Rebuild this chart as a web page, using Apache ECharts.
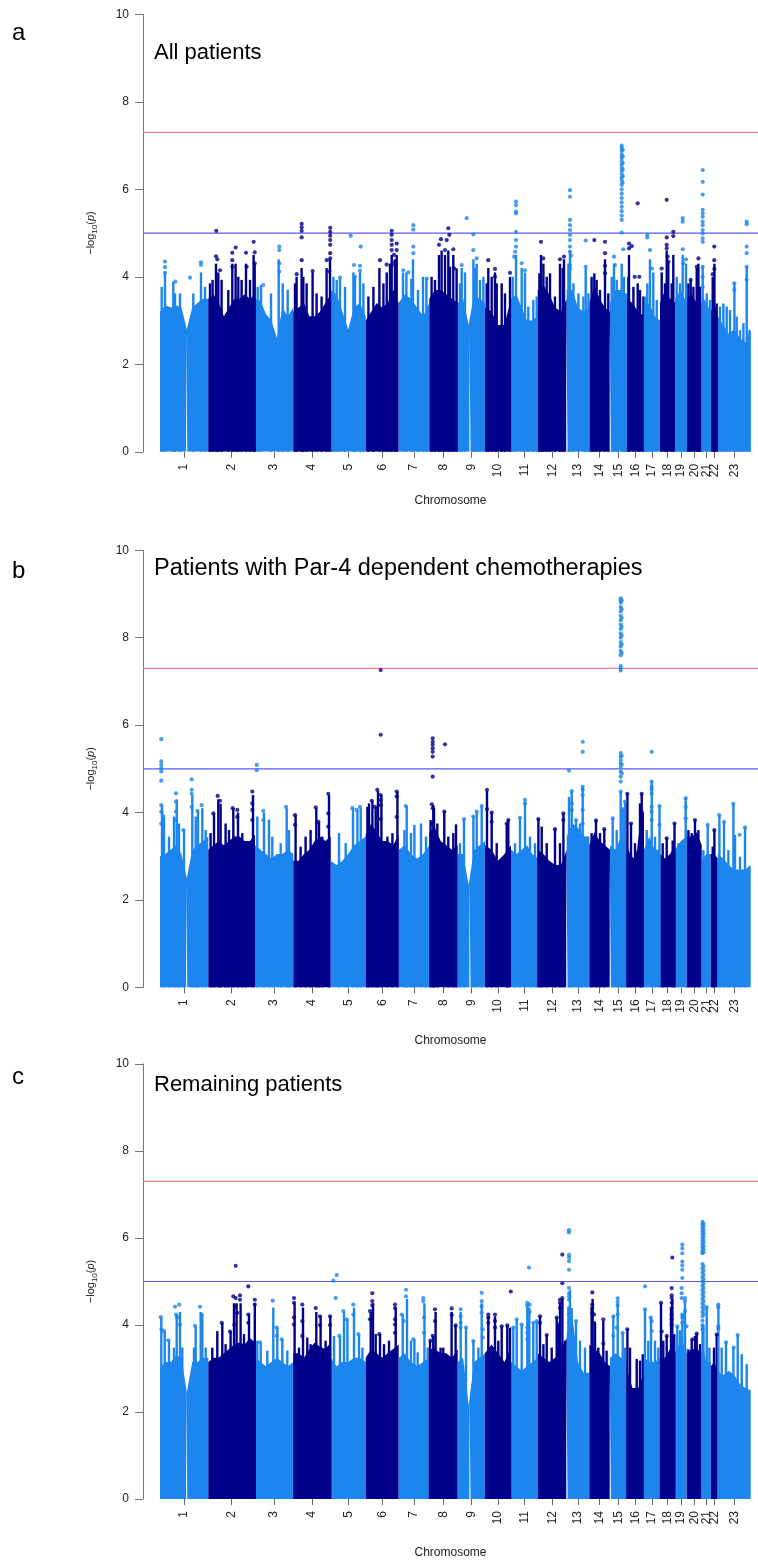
<!DOCTYPE html>
<html><head><meta charset="utf-8">
<script src="https://cdn.jsdelivr.net/npm/echarts@6/dist/echarts.min.js"></script>
<style>html,body{margin:0;padding:0;background:#fff}#c{width:758px;height:1560px}</style>
</head><body><div id="c"></div>
<script>
// ---------------- data ----------------
const chromLabels = ['1','2','3','4','5','6','7','8','9','10','11','12','13','14','15','16','17','18','19','20','21','22','23'];
// relative chromosome lengths (SNP span)
const chromSizes = [48.3,46.7,38.3,37.4,35.0,33.0,30.6,28.4,27.3,26.0,26.7,29.0,22.6,20.7,16.7,17.3,16.0,15.0,11.7,15.0,9.0,7.0,33.0];
const yTickMax = 10, yTickStep = 2;
const genomeWideLine = 7.3;
const suggestiveLine = 5;
const panelLetters = ['a','b','c'];
const panelTitles = ['All patients','Patients with Par-4 dependent chemotherapies','Remaining patients'];

// level of the solid (dense) part of the point cloud, evenly spaced along each chromosome
const cloudTopA = [
 [3.2,3.35,3.3,3.35,3.3,2.8,3.3,3.4,3.5,3.5],[3.5,3.6,3.4,3.1,3.3,3.5,3.5,3.6,3.5,3.6],[3.5,3.45,3.15,3.0,2.6,3.3,3.1,3.3],
 [3.2,3.3,3.4,3.1,3.1,3.2,3.4,3.6],[3.7,3.6,3.2,2.8,3.3,3.4,3.1],[3.0,3.2,3.4,3.3,3.4,3.7,3.4],[3.4,3.6,3.5,3.3,3.1,3.4],
 [3.5,3.7,3.7,3.6,3.5,3.4],[3.4,3.5,2.9,3.6,3.5,3.4],[3.3,3.2,2.9,2.9,3.5],[3.5,3.6,3.3,3.0,3.0,3.1],[3.7,3.8,3.6,3.3,3.2,3.5],
 [3.7,3.7,3.3,3.2,3.3],[3.4,3.8,3.5,3.3,3.2],[3.4,3.7,3.7,3.2],[3.5,3.4,3.2,3.1],[3.3,3.4,3.1,3.0],[3.4,3.7,3.5,3.4],
 [3.5,3.7,3.4],[3.5,3.6,3.4,3.4],[3.6,3.4,3.2],[3.2,3.4,3.1],[3.1,2.9,2.7,2.8,2.6,2.5,2.8]
];
const cloudTopB = [
 [3.0,3.05,3.15,3.25,3.05,2.5,3.15,3.25,3.35,3.45],[3.15,3.25,3.35,3.25,3.35,3.45,3.45,3.35,3.35,3.5],[3.25,3.15,3.05,2.95,3.05,3.05,3.15,3.05],
 [2.9,2.9,3.05,3.15,3.35,3.45,3.35,3.45],[2.9,2.8,2.9,3.05,3.25,3.35,3.45],[3.5,3.75,3.55,3.35,3.35,3.25,3.5],[3.15,3.25,3.05,2.95,3.05,3.25],
 [3.55,3.65,3.35,3.25,3.15,3.25],[3.05,3.05,2.35,3.15,3.25,3.35],[3.25,3.15,2.9,3.05,3.25],[3.15,3.05,3.15,3.25,3.05,2.95],[3.15,3.05,2.9,2.8,2.8,3.15],
 [3.45,3.75,3.65,3.45,3.45],[3.25,3.55,3.35,3.25,3.15],[3.25,3.15,3.45,3.05],[3.25,3.05,2.95,3.15,3.85,4.05],[3.15,3.45,3.15,3.15],[3.05,2.95,3.05,3.25],
 [3.15,3.35,3.45],[3.45,3.45,3.55,3.25],[2.9,3.05,3.05],[3.05,3.05,2.95],[3.05,2.95,2.8,2.7,2.7,2.7,2.8]
];
const cloudTopC = [
 [3.0,3.15,3.15,3.3,3.25,2.45,3.15,3.15,3.25,3.25],[3.15,3.25,3.25,3.35,3.45,3.55,3.6,3.55,3.7,3.6],[3.25,3.15,3.05,3.15,3.25,3.15,3.05,3.15],
 [3.35,3.35,3.25,3.45,3.6,3.5,3.45,3.6],[3.25,3.05,3.15,3.15,3.25,3.25,3.15],[3.25,3.45,3.35,3.25,3.35,3.45,3.55],[3.25,3.35,3.15,3.05,3.15,3.25],
 [3.45,3.45,3.35,3.35,3.25,3.45],[3.15,3.25,2.15,3.15,3.25,3.35],[3.35,3.55,3.35,3.15,3.5],[3.15,3.05,2.95,3.05,3.15,3.25],[3.35,3.25,3.15,3.25,3.45,3.7],
 [3.8,4.2,3.15,2.9,2.9],[3.55,3.45,3.35,3.15,3.05],[3.25,3.35,3.25,3.15],[3.0,2.55,2.55,2.9],[3.25,3.15,3.15,3.25],[3.25,3.25,3.45,3.75],
 [3.35,3.65,3.45],[3.35,3.45,3.45,3.35],[3.65,3.15,3.15],[3.05,3.15,2.95],[2.95,2.85,2.95,2.85,2.65,2.55,2.5]
];

// dense vertical streaks of SNPs rising out of the cloud: [chromosome, position, top]
const streaksA = [
 [1,1.7,3.77],[1,5,4.1],[1,13.3,3.89],[1,15,3.62],[1,20,3.62],[1,33.3,3.62],[1,41,4.1],[1,45,3.77],
 [2,1.7,3.85],[2,4.3,3.93],[2,7.7,4.3],[2,10,4.1],[2,13.3,3.93],[2,20,3.7],[2,24,4.3],[2,27.3,4.3],[2,30,4.0],[2,33.3,3.93],[2,37.7,4.3],[2,41.7,3.93],[2,45.3,4.5],[2,46.4,4.3],
 [3,2.7,3.77],[3,6,3.81],[3,16,3.62],[3,23.7,4.4],[3,27.7,3.85],[3,32.7,3.7],
 [4,1.7,3.85],[4,3.3,4.0],[4,8.3,4.2],[4,10,4.0],[4,13.3,3.85],[4,19.3,4.1],[4,23.3,3.62],[4,28.3,3.55],[4,33.3,4.2],[4,36.7,4.4],
 [5,2.7,4.0],[5,6,3.93],[5,9.3,3.96],[5,14.3,3.77],[5,22.7,4.1],[5,24.3,4.0],[5,29.3,4.1],[5,32.7,3.85],
 [6,2.7,3.55],[6,7.7,3.77],[6,13.7,4.2],[6,17.7,3.85],[6,21,4.1],[6,24.3,4.3],[6,26,4.5],[6,29.3,4.4],[6,31,4.5],
 [7,4.3,4.1],[7,7.7,4.1],[7,12.7,3.96],[7,14.3,4.4],[7,19.3,3.7],[7,24.3,4.0],[7,27.7,3.96],
 [8,2.3,4.0],[8,5.7,3.93],[8,9.7,4.5],[8,12.3,4.6],[8,15.7,4.5],[8,19,4.6],[8,20.7,4.23],[8,24,4.5],[8,27.3,4.19],
 [9,2.3,3.85],[9,4,4.2],[9,7.3,4.1],[9,15.7,4.4],[9,17.3,4.2],[9,19,4.3],[9,22.3,3.93],[9,25.7,4.0],
 [10,1.7,3.85],[10,3.3,4.2],[10,6.7,4.0],[10,10,4.1],[10,11.7,3.85],[10,16.7,3.85],[10,20,3.62],[10,25,4.0],
 [11,1.7,4.0],[11,5,4.5],[11,10.7,4.2],[11,14,4.1],[11,17.3,3.32],[11,22.3,3.47],[11,25.7,3.55],
 [12,1.7,4.08],[12,3.3,4.5],[12,5.7,4.3],[12,9,4.0],[12,12.3,4.08],[12,17.3,3.55],[12,22.3,4.3],[12,25,4.2],[12,26.3,4.4],
 [13,1.7,4.3],[13,3.3,4.6],[13,6.7,3.85],[13,11.7,3.62],[13,16.7,3.55],[13,19,4.2],[13,21.7,3.62],
 [14,2.3,4.0],[14,5,4.08],[14,7.3,3.93],[14,10.7,3.7],[14,15.7,4.4],[14,19,3.62],
 [15,1.7,4.0],[15,4,4.3],[15,6.7,3.93],[15,11.7,4.3],[15,14,4.0],[15,16,3.62],
 [16,1.7,4.0],[16,2.3,4.5],[16,6.7,3.77],[16,11,3.85],[16,13.3,3.7],[16,16.7,3.55],
 [17,1,3.55],[17,3.3,3.85],[17,6,4.4],[17,9.3,4.1],[17,12.7,3.47],
 [18,1.7,4.1],[18,5,3.85],[18,6.7,4.6],[18,8.3,4.35],[18,11.7,3.85],[18,13.3,4.5],
 [19,1.7,4.0],[19,5,3.85],[19,7.7,4.5],[19,11,4.3],
 [20,1.7,3.85],[20,4,3.93],[20,6.7,3.77],[20,10,4.2],[20,11.7,4.3],[20,13.3,3.77],
 [21,1,4.23],[21,5,3.62],[21,8.3,3.47],
 [22,2,4.0],[22,3.7,4.3],[22,6,3.39],
 [23,2.3,3.32],[23,5.7,3.39],[23,9,3.32],[23,12.3,3.24],[23,16.7,3.85],[23,19,3.09],[23,22.3,2.78],[23,25.7,2.94],[23,29,4.23],[23,31.7,2.78]
];
const streaksB = [
 [1,2,4.17],[1,4,3.91],[1,9,3.45],[1,14,3.91],[1,16.7,4.3],[1,19,3.75],[1,24,3.6],[1,32.3,4.4],[1,35.7,3.91],[1,38,4.04],[1,42.3,4.1],[1,45.7,3.6],
 [2,2.3,3.53],[2,5.7,3.98],[2,10,4.3],[2,12.3,4.2],[2,17.3,3.75],[2,20.7,3.6],[2,25,4.1],[2,29.7,4.0],[2,34,3.53],[2,37.3,3.3],[2,44.7,4.4],
 [3,2.3,3.91],[3,9,4.0],[3,14,3.84],[3,17.3,3.45],[3,25.7,3.3],[3,31.7,4.1],[3,34,3.6],
 [4,2.3,3.94],[4,7.3,3.22],[4,12.3,3.45],[4,17.3,3.6],[4,23,4.1],[4,25.7,3.79],[4,29,3.45],[4,35.7,4.4],
 [5,8.3,3.53],[5,15,3.3],[5,22.3,4.1],[5,26.7,4.06],[5,30,4.1],
 [6,1.7,4.13],[6,3.3,4.21],[6,6.7,4.27],[6,10,4.13],[6,12.3,4.5],[6,15.7,4.4],[6,21.7,3.45],[6,26.7,3.53],[6,31.7,4.48],
 [7,5.7,3.6],[7,8,4.15],[7,12.3,3.53],[7,15.7,3.72],[7,22.3,3.75],[7,27.3,3.45],
 [8,1.3,3.83],[8,4,4.17],[8,4.7,4.1],[8,8,3.75],[8,15,4.02],[8,19,3.45],[8,24,3.53],[8,26.7,3.73],
 [9,2.3,3.3],[9,6.3,3.85],[9,15.7,3.91],[9,19,4.02],[9,24,4.15],
 [10,2,4.5],[10,6.7,4.0],[10,11.7,3.3],[10,21.7,3.75],[10,23.3,3.83],
 [11,4,3.3],[11,9,3.88],[11,14,4.25],[11,19,3.45],[11,24,3.3],
 [12,0.7,3.85],[12,4,3.68],[12,9,3.3],[12,17.3,3.62],[12,22.3,3.3],[12,25.7,3.98],
 [13,2.3,4.36],[13,5,4.49],[13,9.3,3.83],[13,13.3,3.75],[13,16,4.59],[13,20,3.45],
 [14,2.3,3.53],[14,6.7,3.82],[14,10.7,3.53],[14,15,3.62],
 [15,2.7,3.87],[15,6.7,3.6],[15,10.7,4.48],[15,12.7,4.08],[15,15,4.25],
 [16,0.7,4.43],[16,4.3,3.75],[16,8.3,3.3],[16,13.3,4.21],[16,15,4.43],
 [17,2.7,3.6],[17,7.7,4.71],[17,11,3.45],[17,15.5,4.15],
 [18,2.7,3.3],[18,6.7,3.41],[18,12.7,3.36],[18,14.5,3.75],
 [19,3.3,3.3],[19,10.7,4.33],
 [20,1.7,3.6],[20,5,3.53],[20,8.3,3.83],[20,11.7,3.6],
 [21,1.7,3.14],[21,6,3.72],
 [22,2,3.22],[22,3.7,3.6],
 [23,1.7,3.94],[23,6.3,3.79],[23,10.7,3.14],[23,15.7,4.2],[23,17.3,3.49],[23,22.3,2.99],[23,27.3,3.66]
];
const streaksC = [
 [1,1.3,4.18],[1,4.7,3.86],[1,9,3.65],[1,14,3.48],[1,16.7,4.24],[1,20,4.3],[1,22.3,3.48],[1,34,3.48],[1,35.7,3.98],[1,40.7,4.3],[1,42.3,4.24],[1,45.7,3.48],
 [2,4,3.48],[2,9,3.86],[2,14,4.05],[2,17.3,3.56],[2,22.3,3.85],[2,25.7,4.5],[2,28.3,4.5],[2,32.3,4.5],[2,35.7,3.79],[2,40.7,4.24],[2,44,3.64],[2,46.5,4.5],
 [3,2.3,3.64],[3,5.7,3.6],[3,12.3,3.41],[3,18.3,4.4],[3,22.3,3.94],[3,27.3,3.67],[3,32.3,3.41],
 [4,1.3,4.5],[4,5.7,3.48],[4,9.7,4.4],[4,14,3.71],[4,17.3,3.56],[4,23,4.3],[4,27.3,4.2],[4,32.3,3.64],[4,37,4.2],
 [5,3.3,3.75],[5,9.3,3.75],[5,13.3,4.3],[5,16.7,4.13],[5,23.3,4.4],[5,28.3,3.79],[5,31.7,3.48],
 [6,5,4.3],[6,7.3,4.5],[6,10,3.79],[6,14.3,3.79],[6,18.3,3.56],[6,23.3,3.64],[6,30,4.4],
 [7,4,4.24],[7,8.3,4.6],[7,12.3,3.64],[7,15.7,3.67],[7,19,3.37],[7,25.7,4.5],[7,29,3.48],
 [8,0.7,3.64],[8,4,3.75],[8,6.3,4.3],[8,11.3,3.48],[8,14,3.48],[8,22.3,4.3],[8,26.3,3.99],
 [9,3,4.3],[9,8.3,3.94],[9,15.7,3.64],[9,20.7,3.48],[9,24,4.5],
 [10,3.3,4.2],[10,10,4.2],[10,13.3,3.64],[10,16.7,3.97],[10,22.3,3.99],[10,25,3.94],
 [11,2.3,3.94],[11,5.7,4.13],[11,10.7,4.01],[11,16.3,4.45],[11,18.3,4.4],[11,22.3,4.05],[11,25.7,4.09],
 [12,2.3,4.2],[12,5.7,3.56],[12,9,3.77],[12,14,3.48],[12,19,4.17],[12,20.7,4.01],[12,22.3,4.5],[12,24.7,4.6],[12,27.3,3.64],
 [13,1.7,4.39],[13,3.3,4.8],[13,5,4.39],[13,9.3,4.09],[13,13.3,3.64],[13,18.3,3.48],
 [14,2.3,4.4],[14,3.3,4.6],[14,5.7,4.05],[14,9,3.48],[14,14,4.1],[14,17.3,3.41],
 [15,3.3,4.2],[15,7.7,4.5],[15,12.7,3.82],[15,15,3.48],
 [16,0.7,3.9],[16,3.3,3.48],[16,10,3.22],[16,13.3,3.18],[16,16,3.33],
 [17,1,4.36],[17,4.3,3.64],[17,7,4.17],[17,11,3.64],[17,14.3,3.48],
 [18,1,4.5],[18,3.3,3.64],[18,6.7,3.75],[18,11,4.39],[18,12.3,4.6],[18,14.3,3.79],
 [19,2.3,3.97],[19,5,3.88],[19,7.3,4.24],[19,10,4.55],
 [20,1.7,3.44],[20,5,3.67],[20,8.3,3.75],[20,10,3.8],[20,13.3,3.56],
 [21,0.8,4.0],[21,1.8,4.0],[21,5,4.41],[21,7.7,3.48],
 [22,3.3,3.48],[22,6,3.78],
 [23,0.7,4.47],[23,4,3.48],[23,8.3,3.6],[23,15.7,3.48],[23,20,3.77],[23,24,3.33],[23,29,3.1]
];

// individual SNPs above the cloud: [chromosome, position within chromosome, -log10 p (one or several)]
const peaksA = [
 [1,5,[4.35,4.22,4.09]],[1,15.3,3.89],[1,30,3.98],[1,41,[4.33,4.27]],
 [2,8,5.05],[2,7.7,4.47],[2,9,4.4],[2,11.7,4.15],[2,24,[4.55,4.38,4.23]],[2,27.4,4.67],[2,37.7,4.55],[2,38.4,4.23],[2,45.4,4.8],[2,46.4,[4.56,4.31]],
 [3,24.3,[4.69,4.61,4.31,4.12]],[3,8.3,3.81],
 [4,8.4,[5.21,5.13,5.05,4.9,4.38]],[4,3.4,4.06],[4,19.4,4.13],[4,36.9,[5.12,5.03,4.94,4.84,4.73,4.54,4.42]],[4,33.4,4.38],[4,36,4.12],
 [5,20,4.94],[5,30,4.69],[5,23.3,4.27],[5,29.3,[4.25,4.14]],[5,24.3,4.0],[5,9.3,3.98],
 [6,26,[5.05,4.96,4.84,4.73,4.61]],[6,28.3,4.5],[6,29.3,4.34],[6,26.2,4.27],[6,21,4.28],[6,14.3,4.38],[6,31,[4.76,4.61]],
 [7,14.6,[5.18,5.08,4.69,4.54]],[7,4.6,4.15],[7,9.6,4.1],[7,28,3.96],
 [8,11.7,4.86],[8,17.4,4.84],[8,19,5.11],[8,20,4.96],[8,24,4.63],[8,15.7,4.61],[8,25,4.19],[8,9.7,4.73],
 [9,9,5.34],[9,15.6,[4.97,4.61]],[9,19,4.42],[9,4,4.27],
 [10,3.3,4.38],[10,10,[4.18,4.0]],[10,25,4.09],
 [11,5,[5.72,5.64,5.49,5.45,5.03,4.84,4.69]],[11,4.2,4.57],[11,3.2,4.46],[11,10.7,4.31],[11,14,4.15],
 [12,3.3,4.8],[12,5.6,4.42],[12,22.3,4.4],[12,26.3,4.46],
 [13,3.3,[5.98,5.83,5.3,5.18,5.07,4.96,4.84,4.69,4.57,4.27,4.19]],[13,4.3,4.48],[13,19,[4.83,4.23]],
 [14,5,4.84],[14,15.7,[4.8,4.54,4.25,4.08]],
 [15,11.7,[7.0,6.95,6.88,6.8,6.72,6.65,6.57,6.5,6.42,6.35,6.27,6.2,6.1,6.0,5.9,5.8,5.7,5.6,5.5,5.4,5.3,5.01]],[15,12.7,[6.9,6.75,6.6,6.45,6.3,6.15]],[15,13.3,4.63],[15,4,4.46],[15,5,4.27],
 [16,11,5.68],[16,2.3,[4.76,4.65]],[16,5,4.7],[16,12.6,4.0],[16,8,4.0],
 [17,3.3,[4.96,4.9]],[17,6,4.61],[17,8,4.19],
 [18,6.7,[5.76,4.9,4.73,4.65]],[18,7.7,4.46],[18,8.3,4.35],[18,13.3,[5.03,4.93]],[18,1.7,4.19],
 [19,7.7,[5.34,5.26,4.63]],[19,11,4.4],[19,8.3,4.31],
 [20,11.7,4.42],[20,10,4.23],[20,4,3.93],
 [21,1,[6.44,6.17,5.88,5.53,5.45,5.37,5.26,5.18,5.07,4.99,4.88,4.8,4.23,4.0,3.77]],
 [22,3.6,[4.69,4.38,4.18]],[22,2,4.06],
 [23,29,[5.26,5.2,4.69,4.54,4.23,3.93]],[23,16.6,[3.85,3.7]]
];
const peaksB = [
 [1,1.3,[5.68,5.17,5.09,5.01,4.94,4.73,4.17,4.02,3.75]],[1,3.3,3.92],[1,16,[4.44,4.25,4.02,3.83]],[1,23.3,3.6],[1,31.7,[4.76,4.52,4.43,4.13]],[1,37.3,4.04],[1,41.7,4.17],
 [2,9.4,4.38],[2,11.7,4.27],[2,5,3.98],[2,24.4,4.1],[2,29,[4.06,3.9]],[2,44,[4.48,4.21,4.06,3.83]],
 [3,1.7,[5.09,4.97]],[3,8.3,[4.04,3.83]],[3,31,4.13],
 [4,1.7,[3.94,3.72]],[4,22.4,4.12],[4,25,3.79],[4,35,[4.43,3.98,3.68]],
 [5,21.6,4.1],[5,26,4.06],[5,29.3,4.13],
 [6,15,[7.26,5.78,4.4,4.29,4.17,3.85]],[6,11.6,4.52],[6,6,4.27],[6,9.3,4.13],[6,31,[4.48,4.37,3.9]],
 [7,7,4.15],
 [8,3.4,[5.7,5.62,5.55,5.47,5.39,5.28,4.82,4.1,3.75]],[8,15.7,5.56],[8,15,4.02],[8,2.5,4.19],
 [9,6.3,3.85],[9,15.6,3.91],[9,19,4.02],[9,24,4.15],
 [10,2,[4.52,4.08]],[10,6.7,[4.0,3.79]],[10,21.7,3.75],[10,23.3,3.83],
 [11,14,[4.29,4.21]],[11,9,3.88],
 [12,0.6,3.85],[12,17.3,3.62],[12,25.6,[3.98,3.83]],
 [13,2.3,4.96],[13,5,[4.49,4.21,4.06]],[13,16,[5.62,5.39,4.59,4.52,4.4,4.06,3.75]],[13,9.3,3.83],
 [14,6.7,3.82],[14,15,3.62],
 [15,10.7,[8.9,8.85,8.8,8.7,8.6,8.5,8.4,8.3,8.2,8.1,8.0,7.9,7.8,7.7,7.6,7.35,7.3,7.25,5.36,5.28,5.2,5.13,5.05,4.94,4.82,4.71,4.48]],
 [15,11.7,[8.85,8.65,8.45,8.25,8.05,7.85,7.65,5.3,5.1,4.9]],[15,15,4.25],[15,12.7,4.08],[15,2.7,3.87],
 [16,0.6,4.43],[16,4.3,3.75],[16,15,4.43],
 [17,7.7,[5.39,4.71,4.59,4.52,4.43,4.13,4.02,3.83]],[17,15.5,[4.15,3.72]],
 [18,14.5,3.75],[18,6.7,3.41],
 [19,10.7,[4.33,4.13,3.87]],
 [20,8.3,3.83],
 [21,6,3.72],
 [22,3.6,3.6],
 [23,1.6,3.94],[23,15.6,4.2],[23,6.3,3.79],[23,27.3,3.66],[23,22,3.49]
];
const peaksC = [
 [1,0.7,4.18],[1,1.5,3.9],[1,4,3.86],[1,8.3,3.65],[1,15,4.42],[1,16,4.24],[1,17.3,4.17],[1,19.3,4.47],[1,20,4.01],[1,35,3.98],[1,40,4.42],[1,41.7,4.24],
 [2,27.4,[5.36,4.62]],[2,25,4.66],[2,27,4.43],[2,29,4.28],[2,31.7,[4.68,4.58]],[2,13.4,4.05],[2,21.7,3.85],[2,26,4.0],[2,40,[4.89,4.24,4.05]],[2,46.5,[4.58,4.47]],
 [3,17.7,4.56],[3,21.7,[3.94,3.75]],[3,5,3.6],[3,26.7,3.67],
 [4,0.7,[4.62,4.51,4.17,4.01]],[4,9,[4.47,4.09,3.75]],[4,22.4,4.39],[4,26.7,[4.2,4.0]],[4,36.7,[4.2,4.0]],
 [5,2.6,5.02],[5,6,5.15],[5,5,4.62],[5,12.6,4.32],[5,16,4.13],[5,22.6,[4.47,4.24]],[5,27.6,3.79],[5,8.6,3.75],
 [6,6.6,[4.73,4.55,4.45]],[6,4.3,[4.32,4.13]],[6,13.6,3.79],[6,29.3,[4.47,4.39,4.13,4.01,3.82]],
 [7,7.3,[4.81,4.66]],[7,3,4.24],[7,5,4.09],[7,14.6,3.67],[7,24.6,[4.62,4.55]],[7,25.3,[4.17,3.82]],
 [8,5.7,[4.36,4.09]],[8,3.4,3.75],[8,1.2,3.64],[8,22.4,[4.38,4.23]],[8,26.4,3.99],
 [9,3,[4.36,4.2,4.05,3.94]],[9,8.3,3.94],[9,15.6,3.63],[9,24,[4.74,4.55,4.43,4.28]],[9,25,[3.9,3.71]],
 [10,3.3,[4.24,4.17,4.05]],[10,10,[4.24,4.09,3.94]],[10,16.7,3.97],[10,22.3,3.99],[10,25.8,4.77],
 [11,18,5.32],[11,16.3,[4.51,4.45,3.94,3.82,3.67]],[11,18.5,[4.47,4.3]],[11,5.7,4.13],[11,2.3,3.94],[11,10.7,4.01],[11,22.3,4.05],[11,25.7,4.09],
 [12,2.3,[4.2,4.05]],[12,9,3.77],[12,20.6,4.01],[12,22.3,[4.39,4.51,4.58]],[12,24.6,[5.62,4.96,4.62]],[12,19,4.17],
 [13,2.3,[6.18,6.13,5.61,5.55,5.47,5.27,4.85,4.73,4.66,4.58,4.39,4.24,4.05]],[13,3,3.94],[13,9.3,4.09],
 [14,3,[4.75,4.47,4.39,4.28]],[14,4.7,[4.24,4.05]],[14,14,[4.13,3.57]],
 [15,7.7,[4.61,4.53,4.45,4.24]],[15,3.3,[4.2,3.75]],[15,6.7,3.94],[15,12.7,3.82],
 [16,0.6,3.9],
 [17,1,[4.89,4.36]],[17,6.7,4.17],[17,7.7,[4.09,3.86]],
 [18,12.3,5.55],[18,11.7,[4.85,4.68,4.62,4.51,4.39,4.24,4.13,4.01]],[18,1,4.51],[18,1.7,3.85],[18,6.7,3.75],
 [19,7.3,[5.85,5.76,5.65,5.46,5.37,5.27,5.08,4.24,4.17,4.05]],[19,6.7,[4.85,4.73,4.62]],[19,10,[4.62,4.55,4.32]],[19,2.3,3.97],[19,11.5,3.97],
 [20,10,3.8],[20,5.7,3.67],
 [21,0.8,[6.37,6.3,6.22,6.15,6.08,6.0,5.93,5.85,5.78,5.7,5.65,5.4,5.3,5.2,5.1,5.0,4.9,4.8,4.7,4.6,4.5,4.4,4.3,4.2,4.1,4.0,3.9]],
 [21,1.8,[6.33,6.26,6.18,6.11,6.04,5.96,5.89,5.81,5.74,5.67,5.35,5.25,5.15,5.05,4.95,4.85,4.75,4.65,4.55,4.45,4.35,4.25]],[21,5,4.41],
 [22,6,3.78],
 [23,0.6,[4.47,4.41,3.97,3.92]],[23,8.3,3.6],[23,16,3.48],[23,20,3.77]
];
// gaps without SNPs (centromeres): [chromosome, position, height of the empty strip]
const gapsA = [[1,26.7,2.8],[9,12.3,2.6],[13,0.3,2.9],[15,0.3,3.0]];
const gapsB = [[1,26.7,2.4],[9,12.3,2.5],[13,0.3,2.9],[15,0.3,3.0]];
const gapsC = [[1,26.7,2.65],[9,12.3,2.4],[13,0.3,2.9],[15,0.3,3.0]];

// ---------------- chart ----------------
const LIGHT = '#1C86EE', DARK = '#00008B';
const FONT = '"Liberation Sans", Arial, Helvetica, sans-serif';
const starts = []; let acc = 0;
chromSizes.forEach(s => { starts.push(acc); acc += s; });
const total = acc;
const X_MIN = -17, X_MAX = total + 7.3;
const centers = chromSizes.map((s, i) => starts[i] + s / 2);
const labelFor = v => { let k = 0, b = 1e9; centers.forEach((c, i) => { const d = Math.abs(c - v); if (d < b) { b = d; k = i; } }); return chromLabels[k]; };
const colorOf = chr => ((chr - 1) % 2 === 0 ? LIGHT : DARK);

const panels = [
  {top: 14.3, height: 437.5, cloud: cloudTopA, streaks: streaksA, peaks: peaksA, gaps: gapsA, letterY: 33, titleY: 53, titleSize: 22, nameGap: 43},
  {top: 550.3, height: 437.1, cloud: cloudTopB, streaks: streaksB, peaks: peaksB, gaps: gapsB, letterY: 571, titleY: 569, titleSize: 23.5, nameGap: 47},
  {top: 1064, height: 438.5, cloud: cloudTopC, streaks: streaksC, peaks: peaksC, gaps: gapsC, letterY: 1077, titleY: 1084.5, titleSize: 22, nameGap: 48}
];

const grid = [], xAxis = [], yAxis = [], series = [], graphic = [];
panels.forEach((p, pi) => {
  grid.push({left: 143, width: 615, top: p.top, height: p.height});
  xAxis.push({
    type: 'value', gridIndex: pi, min: X_MIN, max: X_MAX,
    axisLine: {show: false, onZero: false}, splitLine: {show: false},
    axisTick: {show: true, customValues: centers, length: 6, lineStyle: {color: '#666'}},
    axisLabel: {customValues: centers, formatter: labelFor, rotate: 90, fontSize: 12, color: '#222', margin: 12, fontFamily: FONT},
    name: 'Chromosome', nameLocation: 'middle', nameGap: p.nameGap,
    nameTextStyle: {fontSize: 12, color: '#222', fontFamily: FONT}
  });
  yAxis.push({
    type: 'value', gridIndex: pi, min: 0, max: yTickMax, interval: yTickStep,
    axisLine: {show: true, onZero: false, lineStyle: {color: '#777'}},
    axisTick: {show: true, length: 8, lineStyle: {color: '#777'}},
    axisLabel: {fontSize: 12, color: '#222', margin: 14, fontFamily: FONT},
    splitLine: {show: false},
    name: '{m|−log}{s|10}{m|(}{i|p}{m|)}', nameLocation: 'middle', nameRotate: 90, nameGap: 44,
    nameTextStyle: {
      fontFamily: FONT, color: '#222',
      rich: {
        m: {fontSize: 11, lineHeight: 16, color: '#222', fontFamily: FONT},
        s: {fontSize: 8, lineHeight: 10, verticalAlign: 'bottom', color: '#222', fontFamily: FONT},
        i: {fontSize: 11, lineHeight: 16, fontStyle: 'italic', color: '#222', fontFamily: FONT}
      }
    }
  });
  // dense cloud per chromosome
  p.cloud.forEach((vals, ci) => {
    const n = vals.length;
    series.push({
      type: 'line', xAxisIndex: pi, yAxisIndex: pi, silent: true, z: 2,
      data: vals.map((v, k) => [starts[ci] + chromSizes[ci] * k / (n - 1), v]),
      symbol: 'none', lineStyle: {width: 0, opacity: 0},
      areaStyle: {color: colorOf(ci + 1), opacity: 1}
    });
  });
  // streaks
  series.push({
    type: 'bar', xAxisIndex: pi, yAxisIndex: pi, silent: true, z: 2, barWidth: 2.4,
    data: p.streaks.map(s => ({value: [starts[s[0] - 1] + s[1], s[2]], itemStyle: {color: colorOf(s[0])}}))
  });
  // gaps
  p.gaps.forEach(g => {
    const x = starts[g[0] - 1] + g[1];
    series.push({
      type: 'line', xAxisIndex: pi, yAxisIndex: pi, silent: true, z: 3,
      data: [[x - 0.6, g[2]], [x + 0.6, g[2]]],
      symbol: 'none', lineStyle: {width: 0, opacity: 0},
      areaStyle: {color: '#ffffff', opacity: 1}
    });
  });
  // threshold lines
  [[genomeWideLine, '#FF7B7B', 1.3], [suggestiveLine, '#5A5AF5', 1.2]].forEach(([v, col, w]) => series.push({
    type: 'line', xAxisIndex: pi, yAxisIndex: pi, silent: true, z: 3,
    data: [[X_MIN, v], [X_MAX, v]], symbol: 'none',
    lineStyle: {color: col, width: w, type: 'solid'}, itemStyle: {color: col}
  }));
  // peaks
  const light = [], dark = [];
  p.peaks.forEach(e => {
    const vs = Array.isArray(e[2]) ? e[2] : [e[2]];
    const x = starts[e[0] - 1] + e[1];
    vs.forEach(v => ((e[0] - 1) % 2 === 0 ? light : dark).push([x, v]));
  });
  [[light, LIGHT], [dark, DARK]].forEach(([d, col]) => series.push({
    type: 'scatter', xAxisIndex: pi, yAxisIndex: pi, silent: true, z: 4,
    data: d, symbolSize: 4.2, itemStyle: {color: col}
  }));
  graphic.push({type: 'text', x: 12, y: p.letterY, silent: true,
    style: {text: panelLetters[pi], font: '24px ' + FONT, fill: '#000', align: 'left', verticalAlign: 'middle', textAlign: 'left', textVerticalAlign: 'middle'}});
  graphic.push({type: 'text', x: 154, y: p.titleY, silent: true,
    style: {text: panelTitles[pi], font: p.titleSize + 'px ' + FONT, fill: '#000', align: 'left', verticalAlign: 'middle', textAlign: 'left', textVerticalAlign: 'middle'}});
});

const chart = echarts.init(document.getElementById('c'), null, {renderer: 'canvas'});
chart.setOption({animation: false, backgroundColor: '#fff', grid, xAxis, yAxis, series, graphic});
</script></body></html>
